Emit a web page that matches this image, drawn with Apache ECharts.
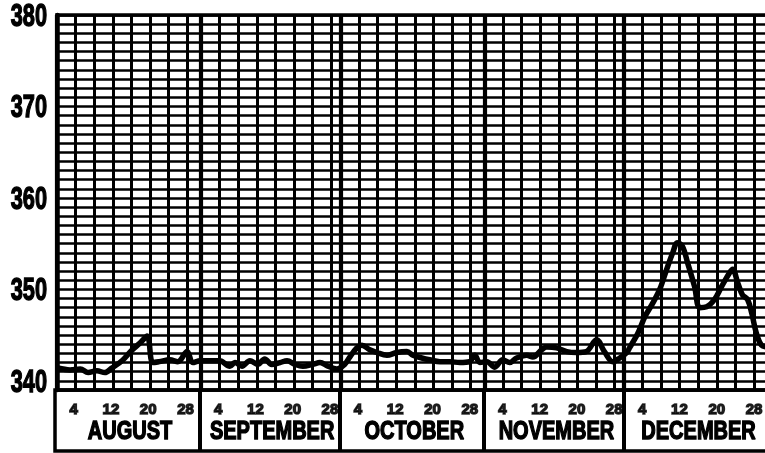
<!DOCTYPE html>
<html>
<head>
<meta charset="utf-8">
<script src="https://cdn.jsdelivr.net/npm/echarts@6/dist/echarts.min.js"></script>
<style>
  html, body { margin: 0; padding: 0; background: #fff; }
  #chart { width: 765px; height: 453px; }
</style>
</head>
<body>
<div id="chart"></div>
<script>
// Months shown along the bottom and their lengths in days
const monthNames = ['AUGUST', 'SEPTEMBER', 'OCTOBER', 'NOVEMBER', 'DECEMBER'];
const monthLengths = [31, 30, 31, 30, 31];
// Day-of-month tick labels printed under each month
const dayTickLabels = [4, 12, 20, 28];
// Day-of-month positions of the fine vertical rulings
const rulingDays = [4, 8, 12, 16, 20, 24, 28];
// Value labels on the left
const valueTickLabels = [340, 350, 360, 370, 380];

// Readings: day counted from 31 July (so 1 Aug = 1, 1 Sep = 32, ...)
const sampleDays = [
  0.2, 2.8, 5.0, 6.7, 8.6, 10.3, 11.8, 14.0, 16.0, 17.8, 19.4, 20.6, 22.0, 24.3, 26.0, 28.0, 29.2, 30.8,
  32.9, 35.0, 37.2, 38.3, 39.8, 41.5, 43.2, 44.7, 46.2, 48.0, 49.5, 51.2, 52.9, 55.0, 56.6, 58.3, 60.2, 61.9,
  63.0, 64.5, 65.6, 67.3, 68.8, 71.0, 73.1, 75.3, 76.6, 78.5, 80.2, 82.4, 84.5, 86.7, 88.8, 89.9, 91.0, 92.5,
  94.2, 95.9, 97.4, 98.9, 101.1, 102.4, 104.3, 105.4, 107.5, 109.7, 111.8, 113.9, 116.1, 117.8, 119.6, 121.1, 122.6,
  123.2, 125.0, 126.5, 128.2, 129.7, 131.2, 132.5, 133.5, 134.6, 135.7, 137.2, 138.3, 139.8, 141.5, 143.0,
  144.7, 145.4, 146.5, 147.5, 148.6, 149.5, 150.5, 151.6, 153.0
];
const readings = [
  341.4, 341.2, 341.3, 340.9, 341.1, 340.9, 341.4, 342.2, 343.3, 344.1, 344.9, 342.0, 342.1, 342.3, 342.1, 343.2, 342.0, 342.2,
  342.2, 342.2, 341.6, 342.0, 341.6, 342.2, 341.8, 342.4, 341.8, 342.0, 342.2, 341.8, 341.6, 341.8, 342.0, 341.6, 341.3, 341.8,
  342.6, 343.6, 343.9, 343.4, 343.1, 342.8, 343.1, 343.2, 342.8, 342.5, 342.3, 342.1, 342.1, 342.0, 342.1, 342.8, 342.0, 342.1,
  341.5, 342.3, 342.0, 342.5, 342.8, 342.6, 343.4, 343.7, 343.6, 343.2, 343.1, 343.2, 344.5, 343.2, 342.1, 342.5, 343.1,
  343.6, 345.2, 347.0, 348.5, 350.0, 352.2, 354.0, 355.1, 354.7, 352.9, 350.3, 348.0, 348.1, 348.9, 350.3,
  351.8, 352.2, 350.7, 349.4, 348.9, 347.4, 345.2, 343.9, 343.7
];

// Month start offsets on the day scale
const monthStarts = [];
monthLengths.reduce((acc, len) => { monthStarts.push(acc); return acc + len; }, 0);
const totalDays = monthLengths.reduce((a, b) => a + b, 0);

const INK = '#000';
const FACE = '"Liberation Sans", Arial, sans-serif';

// Vertical rulings in the plot: fine lines every 4 days, heavy lines at month boundaries
const rulingLines = [];
monthStarts.forEach((start) => {
  rulingLines.push({ xAxis: start, lineStyle: { width: 4.2 } });
  rulingDays.forEach((d) => rulingLines.push({ xAxis: start + d, lineStyle: { width: 3 } }));
});
rulingLines.push({ xAxis: totalDays, lineStyle: { width: 4.2 } });

// Month separators in the label strip
const stripLines = monthStarts.slice(1).map((s) => ({ xAxis: s }));

// Day numbers in the label strip
const dayLabelData = [];
monthStarts.forEach((start) => {
  dayTickLabels.forEach((d) => dayLabelData.push({ value: [start + d, 0.68], name: String(d) }));
});

const chart = echarts.init(document.getElementById('chart'), null, { renderer: 'canvas' });

chart.setOption({
  animation: false,
  backgroundColor: '#fff',
  grid: [
    { left: 57, top: 15, width: 711, height: 375, outerBoundsMode: 'none', containLabel: false,
      show: true, borderColor: INK, borderWidth: 3.5, backgroundColor: 'transparent' },
    { left: 55, top: 390, width: 713, height: 61, outerBoundsMode: 'none', containLabel: false,
      show: true, borderColor: INK, borderWidth: 3.5, backgroundColor: 'transparent' }
  ],
  xAxis: [
    {
      type: 'value', gridIndex: 0, min: 0, max: totalDays,
      axisLine: { show: false }, axisTick: { show: false }, axisLabel: { show: false }, splitLine: { show: false }
    },
    {
      type: 'value', gridIndex: 1, min: 0, max: totalDays,
      axisLine: { show: false }, axisTick: { show: false }, axisLabel: { show: false }, splitLine: { show: false }
    }
  ],
  yAxis: [
    {
      type: 'value', gridIndex: 0, min: 339, max: 380, interval: 1,
      axisLine: { show: true, lineStyle: { color: INK, width: 4.5 } },
      axisTick: { show: false },
      splitLine: { show: true, lineStyle: { color: INK, width: 2.7 } },
      axisLabel: { show: false }
    },
    {
      type: 'value', gridIndex: 1, min: 0, max: 1,
      axisLine: { show: false }, axisTick: { show: false }, axisLabel: { show: false }, splitLine: { show: false }
    }
  ],
  series: [
    {
      name: 'rulings',
      type: 'line',
      xAxisIndex: 0, yAxisIndex: 0,
      data: [],
      silent: true,
      markLine: {
        silent: true,
        symbol: ['none', 'none'],
        label: { show: false },
        lineStyle: { color: INK, type: 'solid' },
        data: rulingLines
      }
    },
    {
      name: 'reading',
      type: 'line',
      xAxisIndex: 0, yAxisIndex: 0,
      data: sampleDays.map((d, i) => [d, readings[i]]),
      smooth: 0.35,
      showSymbol: false,
      clip: true,
      z: 10,
      lineStyle: { color: INK, width: 5.5, cap: 'round', join: 'round' }
    },
    {
      name: 'strip',
      type: 'line',
      xAxisIndex: 1, yAxisIndex: 1,
      data: [],
      silent: true,
      markLine: {
        silent: true,
        symbol: ['none', 'none'],
        label: { show: false },
        lineStyle: { color: INK, type: 'solid', width: 4 },
        data: stripLines
      }
    },
    {
      name: 'days',
      type: 'scatter',
      xAxisIndex: 1, yAxisIndex: 1,
      symbolSize: 1,
      itemStyle: { color: 'transparent' },
      silent: true,
      data: dayLabelData,
      label: {
        show: true, position: 'inside', formatter: (p) => p.name,
        color: INK, fontFamily: FACE, fontWeight: 'bold', fontSize: 15,
        textBorderColor: INK, textBorderWidth: 1.4
      }
    }
  ]
});

// Condensed lettering for the value scale and the month names,
// placed through the axes' own scales.
const graphics = [];
valueTickLabels.forEach((v) => {
  const y = chart.convertToPixel({ yAxisIndex: 0 }, v);
  graphics.push({
    type: 'text', x: 47, y: y + 2, scaleX: 0.68, silent: true,
    style: { text: String(v), fill: INK, stroke: INK, lineWidth: 1.4, font: 'bold 32px ' + FACE,
             textAlign: 'right', textVerticalAlign: 'middle' }
  });
});
monthNames.forEach((name, i) => {
  const x = chart.convertToPixel({ xAxisIndex: 1 }, monthStarts[i] + monthLengths[i] / 2 + 0.6);
  const y = chart.convertToPixel({ yAxisIndex: 1 }, 0.31);
  graphics.push({
    type: 'text', x: x, y: y, scaleX: 0.8, silent: true,
    style: { text: name, fill: INK, stroke: INK, lineWidth: 1.4, font: 'bold 25px ' + FACE,
             textAlign: 'center', textVerticalAlign: 'middle' }
  });
});
chart.setOption({ graphic: graphics });
</script>
</body>
</html>
